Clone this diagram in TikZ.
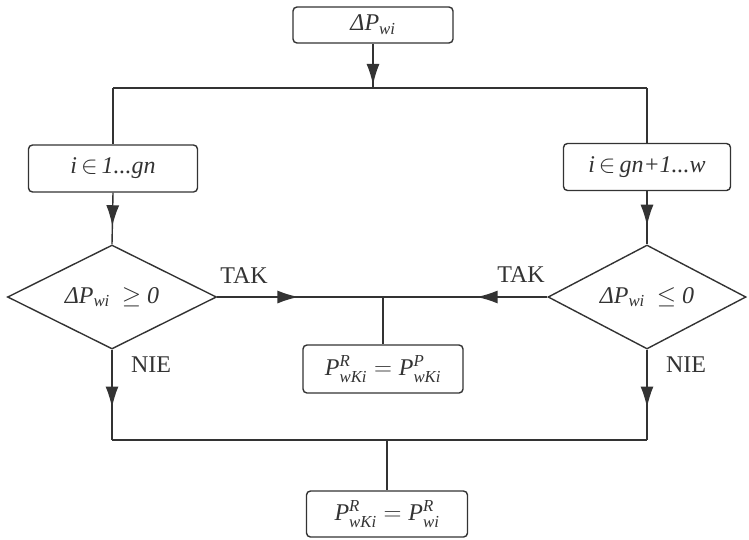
\documentclass[tikz,border=0pt]{standalone}
\usepackage{amsmath}
\usepackage{fontspec}
\setmainfont{Liberation Serif}
\usetikzlibrary{shapes.geometric,arrows.meta,decorations.markings}
\definecolor{ink}{HTML}{333333}
\begin{document}
\begin{tikzpicture}[x=1pt,y=-1pt,
  conn/.style={line width=1.4pt, draw=ink},
  boxnode/.style={draw=ink, line width=1.4pt, rectangle, rounded corners=4pt, inner sep=0pt, text=ink,
     font=\fontsize{24}{28}\selectfont\itshape},
  dianode/.style={draw=ink, line width=1.4pt, diamond, aspect=2, inner sep=0pt, text=ink,
     font=\fontsize{24}{28}\selectfont\itshape},
  lab/.style={text=ink, font=\fontsize{24}{28}\selectfont, inner sep=0pt},
  markarrow/.style={conn, postaction={decorate}, decoration={markings,
     mark=at position #1 with {\arrow[ink]{Latex[length=21pt,width=13pt]}}}}
]
\useasboundingbox (0,0) rectangle (749,539);

\node[boxnode, minimum width=160pt, minimum height=36pt] (top) at (373,25) {\textit{ΔP}$_{\textit{wi}}$};
\node[boxnode, minimum width=169pt, minimum height=47pt] (lbox) at (113,168.5) {\textit{i}\,$\in$\,\textit{1...gn}};
\node[boxnode, minimum width=167pt, minimum height=47pt] (rbox) at (647,167) {\textit{i}\,$\in$\,\textit{gn}+\textit{1...w}};
\node[dianode, minimum width=209pt, minimum height=104pt] (ldia) at (112,297) {\textit{ΔP}$_{\textit{wi}}$\ \ $\geq$ \textit{0}};
\node[dianode, minimum width=198pt, minimum height=104pt] (rdia) at (647,297) {\textit{ΔP}$_{\textit{wi}}$\ \ $\leq$ \textit{0}};
\node[boxnode, minimum width=160pt, minimum height=48pt] (mbox) at (383,369) {$\textit{P}^{\textit{R}}_{\textit{wKi}}=\textit{P}^{\textit{P}}_{\textit{wKi}}$};
\node[boxnode, minimum width=161pt, minimum height=46pt] (bbox) at (387,514) {$\textit{P}^{\textit{R}}_{\textit{wKi}}=\textit{P}^{\textit{R}}_{\textit{wi}}$};

\coordinate (j0) at (373,88);
\coordinate (jl) at (113,88);
\coordinate (jr) at (647,88);
\coordinate (jm) at (383,297);
\coordinate (bl) at (112,440);
\coordinate (br) at (647,440);
\coordinate (bm) at (387,440);

\draw[markarrow=0.93] (top.south) -- (j0);
\draw[conn] (jl) -- (jr);
\draw[conn] (jl) -- (lbox.north);
\draw[conn] (jr) -- (rbox.north);
\draw[markarrow=0.65] (lbox.south) -- (ldia.north);
\draw[markarrow=0.65] (rbox.south) -- (rdia.north);
\draw[markarrow=0.49] (ldia.east) -- (jm);
\draw[markarrow=0.43] (rdia.west) -- (jm);
\draw[conn] (jm) -- (mbox.north);
\draw[markarrow=0.64] (ldia.south) -- (bl);
\draw[markarrow=0.64] (rdia.south) -- (br);
\draw[conn] (bl) -- (br);
\draw[conn] (bm) -- (bbox.north);

\node[lab] (tak1) at (244,276) {TAK};
\node[lab] (tak2) at (521,275) {TAK};
\node[lab] (nie1) at (151,365) {NIE};
\node[lab] (nie2) at (686,365) {NIE};
\end{tikzpicture}
\end{document}
